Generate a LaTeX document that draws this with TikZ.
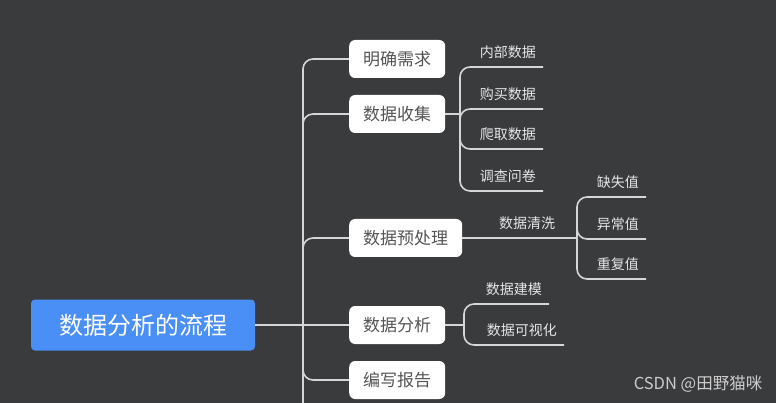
\documentclass[tikz,border=0pt]{standalone}
\usepackage{fontspec}
\setmainfont{Noto Sans CJK SC}
\definecolor{bg}{HTML}{3A3B3D}
\definecolor{rootblue}{HTML}{4A8FF5}
\definecolor{wiregray}{HTML}{D6D6D6}
\definecolor{boxtext}{HTML}{555555}
\tikzset{
  rootbox/.style={fill=rootblue, text=white, rounded corners=4pt, minimum width=224pt, minimum height=51pt, font=\fontsize{24}{28}\selectfont},
  topic/.style={fill=white, text=boxtext, rounded corners=6pt, inner xsep=14pt, minimum height=38pt, anchor=west, font=\fontsize{17}{20}\selectfont},
  leaf/.style={text=white!90!black, inner xsep=7pt, inner ysep=6.5pt, text height=11pt, text depth=3pt, anchor=south east, font=\fontsize{14}{17}\selectfont},
  wire/.style={draw=wiregray, line width=1.6pt, rounded corners=10pt}
}
\begin{document}
\begin{tikzpicture}[x=1pt, y=-1pt]
    \useasboundingbox[fill=bg] (0,0) rectangle (776,403);
    \node[rootbox] (root) at (143,325) {数据分析的流程};
    \coordinate (hub) at (303,325);
    \coordinate (rest) at (303,403);
    \node[topic] (need) at (349,59) {明确需求};
    \node[topic] (collect) at (349,114) {数据收集};
    \node[topic] (prep) at (349,238) {数据预处理};
    \node[topic] (analyse) at (349,325) {数据分析};
    \node[topic] (report) at (349,380) {编写报告};
    \draw[wire] (root) -- (analyse);
    \draw[wire] (hub) -- (rest);
    \foreach \t in {need,collect,prep,report}
        \draw[wire] (hub) |- (\t.west);

    \coordinate (hubc) at (460,114);
    \draw[wire] (collect) -- (hubc);
    \foreach \n/\y/\t in {a/67/内部数据, b/109/购买数据, c/149/爬取数据, d/191/调查问卷} {
        \node[leaf] (collect-\n) at (543,\y) {\t};
        \draw[wire] (hubc) |- (collect-\n.south east);
    }

    \coordinate (hubp) at (577,238);
    \draw[wire] (prep) -- (hubp);
    \node[leaf, anchor=south] (clean) at (527,238) {数据清洗};
    \foreach \n/\y/\t in {a/197/缺失值, b/239/异常值, c/279/重复值} {
        \node[leaf] (clean-\n) at (646,\y) {\t};
        \draw[wire] (hubp) |- (clean-\n.south east);
    }

    \coordinate (huba) at (464,325);
    \draw[wire] (analyse) -- (huba);
    \node[leaf] (model) at (549,304) {数据建模};
    \node[leaf] (visual) at (564,345) {数据可视化};
    \draw[wire] (huba) |- (model.south east);
    \draw[wire] (huba) |- (visual.south east);

    \node[text=white!80!black, font=\fontsize{16.5}{19}\selectfont] (mark) at (698,384) {CSDN @田野猫咪};
\end{tikzpicture}
\end{document}
